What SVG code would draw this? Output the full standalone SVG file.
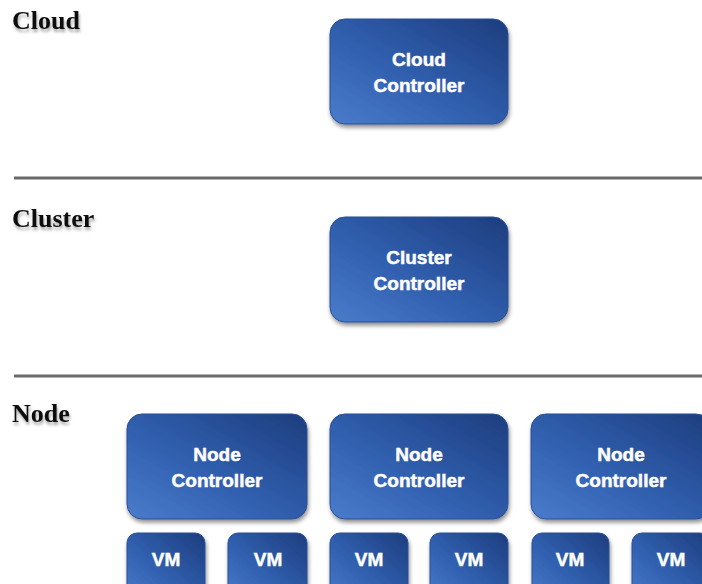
<svg xmlns="http://www.w3.org/2000/svg" width="702" height="584" viewBox="0 0 702 584">
<defs>
<linearGradient id="g" x1="0" y1="1" x2="1" y2="0">
<stop offset="0" stop-color="#4a7ccc"/>
<stop offset="0.45" stop-color="#305fae"/>
<stop offset="1" stop-color="#1d3d7e"/>
</linearGradient>
<filter id="sh" x="-10%" y="-10%" width="125%" height="130%">
<feGaussianBlur in="SourceAlpha" stdDeviation="2"/>
<feOffset dx="1" dy="3" result="b"/>
<feComponentTransfer><feFuncA type="linear" slope="0.45"/></feComponentTransfer>
<feMerge><feMergeNode/><feMergeNode in="SourceGraphic"/></feMerge>
</filter>
<filter id="ts" x="-10%" y="-20%" width="130%" height="160%">
<feGaussianBlur in="SourceAlpha" stdDeviation="1.5"/>
<feOffset dx="1" dy="3"/>
<feComponentTransfer><feFuncA type="linear" slope="0.35"/></feComponentTransfer>
<feMerge><feMergeNode/><feMergeNode in="SourceGraphic"/></feMerge>
</filter>
</defs>
<style>
.box{fill:url(#g);stroke:#2a4f95;stroke-width:1;filter:url(#sh)}
.t{font-family:"Liberation Sans",Arial,sans-serif;font-weight:bold;font-size:19px;fill:#fff;stroke:#fff;stroke-width:0.5;text-anchor:middle}
.lbl{font-family:"Liberation Serif","Times New Roman",serif;font-weight:bold;font-size:26px;fill:#111;filter:url(#ts)}
.sep{stroke:#6a6a6a;stroke-width:3}
</style>
<g id="labels">
<text class="lbl" x="12" y="29">Cloud</text>
<text class="lbl" x="12" y="227">Cluster</text>
<text class="lbl" x="12" y="422">Node</text>
</g>
<g id="separators">
<line class="sep" x1="14" y1="178" x2="702" y2="178"/>
<line class="sep" x1="14" y1="376" x2="702" y2="376"/>
</g>
<g id="connectors"></g>
<g id="cloud-controller">
<rect class="box" x="330" y="19" width="178" height="105" rx="15"/>
<text class="t" x="419" y="66">Cloud</text>
<text class="t" x="419" y="92">Controller</text>
</g>
<g id="cluster-controller">
<rect class="box" x="330" y="217" width="178" height="105" rx="15"/>
<text class="t" x="419" y="264">Cluster</text>
<text class="t" x="419" y="290">Controller</text>
</g>
<g id="node-controller-1">
<rect class="box" x="127" y="414" width="180" height="105" rx="15"/>
<text class="t" x="217" y="461">Node</text>
<text class="t" x="217" y="487">Controller</text>
</g>
<g id="node-controller-2">
<rect class="box" x="330" y="414" width="178" height="105" rx="15"/>
<text class="t" x="419" y="461">Node</text>
<text class="t" x="419" y="487">Controller</text>
</g>
<g id="node-controller-3">
<rect class="box" x="531" y="414" width="180" height="105" rx="15"/>
<text class="t" x="621" y="461">Node</text>
<text class="t" x="621" y="487">Controller</text>
</g>
<g id="vm-1"><rect class="box" x="127" y="533" width="78" height="70" rx="10"/><text class="t" x="166" y="566">VM</text></g>
<g id="vm-2"><rect class="box" x="228" y="533" width="79" height="70" rx="10"/><text class="t" x="268" y="566">VM</text></g>
<g id="vm-3"><rect class="box" x="330" y="533" width="78" height="70" rx="10"/><text class="t" x="369" y="566">VM</text></g>
<g id="vm-4"><rect class="box" x="430" y="533" width="78" height="70" rx="10"/><text class="t" x="469" y="566">VM</text></g>
<g id="vm-5"><rect class="box" x="532" y="533" width="77" height="70" rx="10"/><text class="t" x="570" y="566">VM</text></g>
<g id="vm-6"><rect class="box" x="632" y="533" width="78" height="70" rx="10"/><text class="t" x="671" y="566">VM</text></g>
</svg>
